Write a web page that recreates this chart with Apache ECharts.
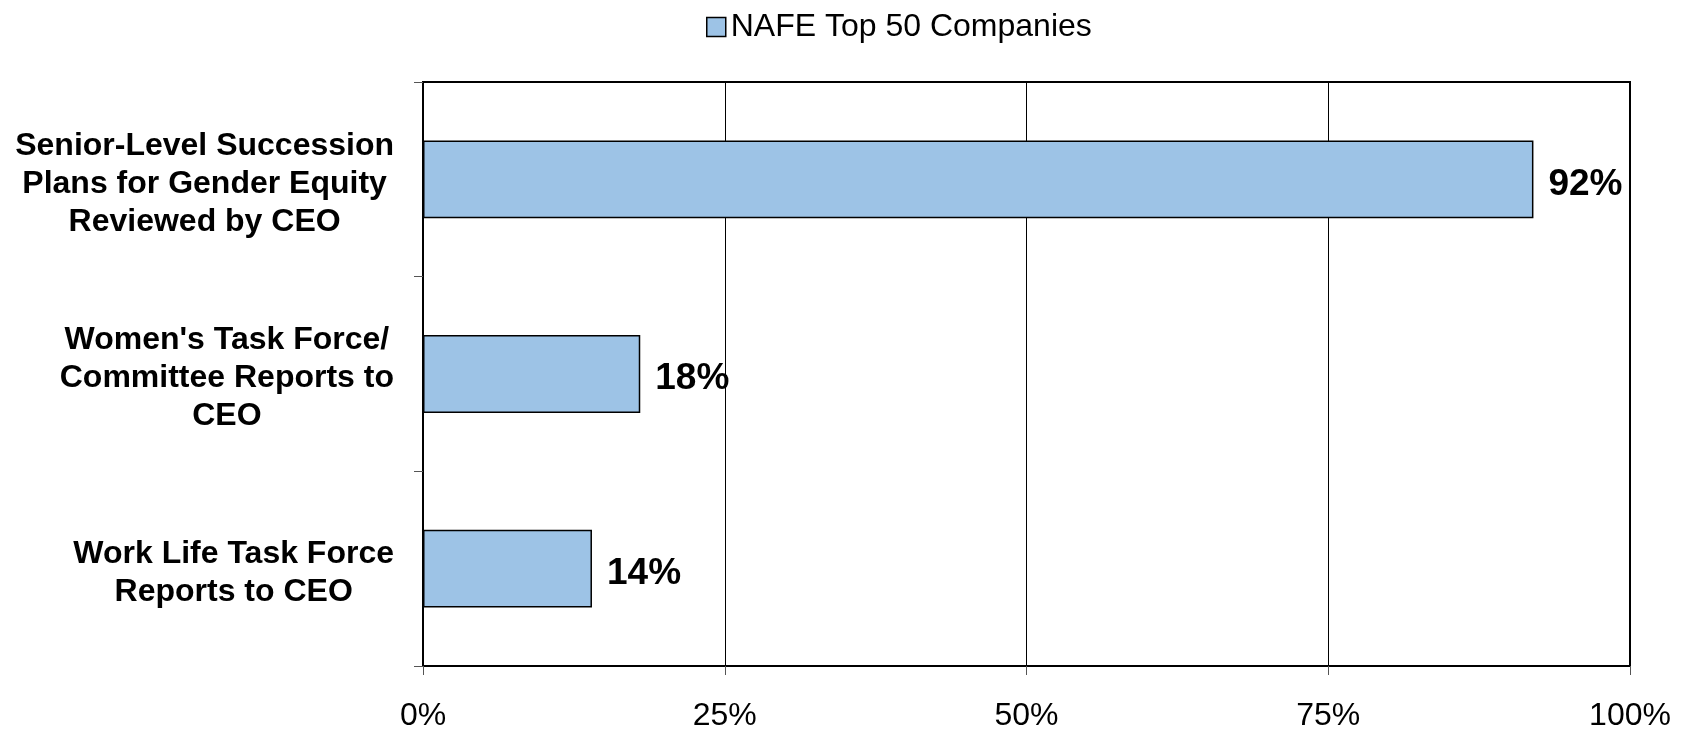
<!DOCTYPE html>
<html>
<head>
<meta charset="utf-8">
<script src="https://cdn.jsdelivr.net/npm/echarts@6/dist/echarts.min.js"></script>
<style>
  html, body { margin: 0; padding: 0; background: #fff; }
  #chart { width: 1682px; height: 732px; }
</style>
</head>
<body>
<div id="chart"></div>
<script>
// Categories, top to bottom
const categories = [
  'Senior-Level Succession\nPlans for Gender Equity\nReviewed by CEO',
  "Women's Task Force/\nCommittee Reports to\nCEO",
  'Work Life Task Force\nReports to CEO'
];
// Share of companies (percent)
const seriesName = 'NAFE Top 50 Companies';
const values = [92, 18, 14];
// Value axis ticks (percent)
const axisMin = 0;
const axisMax = 100;
const axisStep = 25;

const FONT = '"Liberation Sans", Arial, Helvetica, sans-serif';

const chart = echarts.init(document.getElementById('chart'), null, { renderer: 'canvas' });

chart.setOption({
  animation: false,
  backgroundColor: '#ffffff',
  textStyle: { fontFamily: FONT, color: '#000' },
  legend: {
    data: [seriesName],
    icon: 'rect',
    left: 701,
    top: 6,
    itemWidth: 19,
    itemHeight: 19,
    itemGap: 10,
    textStyle: { fontFamily: FONT, fontSize: 32, color: '#000' },
    itemStyle: { borderColor: '#000', borderWidth: 1.5 }
  },
  grid: {
    left: 423,
    right: 52,
    top: 82,
    bottom: 61,
    show: true,
    borderColor: '#000',
    borderWidth: 2,
    backgroundColor: 'transparent'
  },
  xAxis: {
    type: 'value',
    min: axisMin,
    max: axisMax,
    interval: axisStep,
    axisLine: { show: true, lineStyle: { color: '#000', width: 2 } },
    axisTick: { show: true, length: 9, lineStyle: { color: '#555', width: 1 } },
    splitLine: { show: true, lineStyle: { color: '#000', width: 1 } },
    axisLabel: {
      margin: 34,
      fontFamily: FONT,
      fontSize: 32,
      color: '#000',
      formatter: v => v + '%'
    }
  },
  yAxis: {
    type: 'category',
    inverse: true,
    data: categories,
    axisLine: { show: true, lineStyle: { color: '#000', width: 2 } },
    axisTick: { show: true, length: 9, alignWithLabel: false, lineStyle: { color: '#555', width: 1 } },
    splitLine: { show: false },
    axisLabel: {
      margin: 29,
      align: 'right',
      padding: [9, 0, 0, 0],
      formatter: s => s.split('\n').map(l => '{c|' + l + '}').join('\n'),
      rich: {
        c: {
          align: 'center',
          fontFamily: FONT,
          fontSize: 32,
          fontWeight: 'bold',
          lineHeight: 38,
          color: '#000'
        }
      }
    }
  },
  series: [{
    name: seriesName,
    type: 'bar',
    data: values,
    barWidth: '40%',
    itemStyle: { color: '#9dc3e6', borderColor: '#000', borderWidth: 1.5 },
    label: {
      show: true,
      position: 'right',
      distance: 15,
      offset: [0, 5],
      fontFamily: FONT,
      fontSize: 37,
      fontWeight: 'bold',
      color: '#000',
      formatter: p => p.value + '%'
    }
  }]
});
</script>
</body>
</html>
